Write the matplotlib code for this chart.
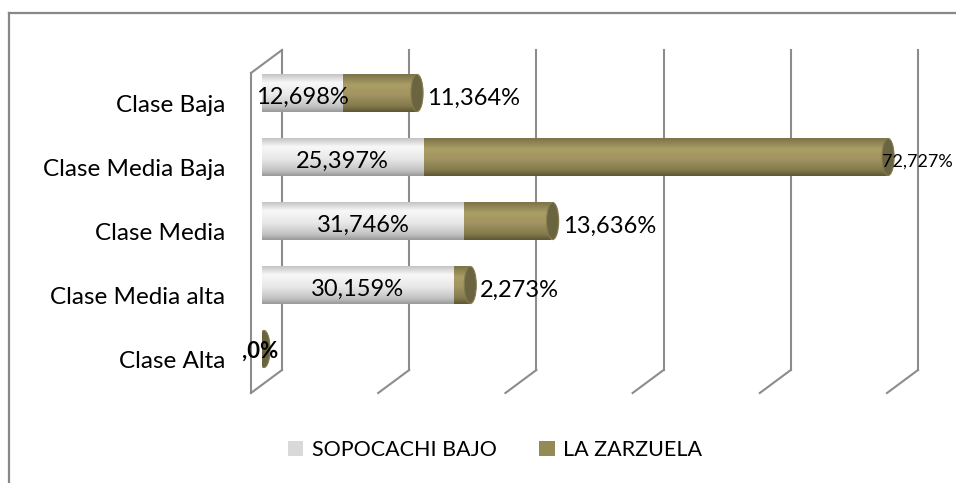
import matplotlib.pyplot as plt
import numpy as np
from matplotlib.patches import Ellipse, Patch
from matplotlib.transforms import offset_copy
from matplotlib.colors import LinearSegmentedColormap

plt.rcParams['font.family'] = ['Lato', 'DejaVu Sans']

# Datos
categorias = ["Clase Alta", "Clase Media alta", "Clase Media", "Clase Media Baja", "Clase Baja"]
sopocachi = [0.0, 30.159, 31.746, 25.397, 12.698]
zarzuela = [0.0, 2.273, 13.636, 72.727, 11.364]
etiquetas_sop = [",0%", "30,159%", "31,746%", "25,397%", "12,698%"]
etiquetas_zar = ["0%", "2,273%", "13,636%", "72,727%", "11,364%"]
series = ["SOPOCACHI BAJO", "LA ZARZUELA"]
grid_x = [0, 20, 40, 60, 80, 100]

gris = "#d9d9d9"
oliva = "#948a54"
tapa = "#6b6441"
linea = "#8c8c8c"

fig = plt.figure(figsize=(9.56, 4.83), dpi=100)
W, H = 956, 483
ax = fig.add_axes([262 / W, 102 / H, 636 / W, 320 / H])
ax.set_xlim(0, 100)
ax.set_ylim(-0.5, 4.5)
ax.axis("off")

# marco del grafico (solo izquierda y arriba visibles)
fig.add_artist(plt.Line2D([9 / W, 9 / W], [0, 1 - 13 / H], color="#888888", lw=1.6))
fig.add_artist(plt.Line2D([9 / W, 1], [1 - 13 / H, 1 - 13 / H], color="#888888", lw=1.6))

# pared del fondo y piso (efecto 3D)
atras = offset_copy(ax.transData, fig, x=20, y=11, units="dots")
frente = offset_copy(ax.transData, fig, x=-11, y=-12, units="dots")
for gx in grid_x:
    ax.plot([gx, gx], [-0.5, 4.5], color=linea, lw=1.5, transform=atras, clip_on=False, zorder=1)
    p0 = atras.transform((gx, -0.5))
    p1 = frente.transform((gx, -0.5))
    ax.plot([p0[0], p1[0]], [p0[1], p1[1]], color=linea, lw=1.5, transform=None, clip_on=False, zorder=1)
# pared izquierda
ax.plot([0, 0], [-0.5, 4.5], color=linea, lw=1.5, transform=frente, clip_on=False, zorder=1)
q0 = atras.transform((0, 4.5))
q1 = frente.transform((0, 4.5))
ax.plot([q0[0], q1[0]], [q0[1], q1[1]], color=linea, lw=1.5, transform=None, clip_on=False, zorder=1)

cm_gris = LinearSegmentedColormap.from_list(
    "g", [(0, "#c4c4c4"), (0.22, "#f8f8f8"), (0.55, "#e8e8e8"), (0.85, "#c4c4c4"), (1, "#9a9a9a")])
cm_oliva = LinearSegmentedColormap.from_list(
    "o", [(0, "#7c7449"), (0.28, "#aa9d65"), (0.55, "#a19461"), (0.85, "#847a4d"), (1, "#5e5735")])
grad = np.linspace(0, 1, 64).reshape(-1, 1)

h = 0.58
for i in range(len(categorias)):
    a, b = sopocachi[i], zarzuela[i]
    if a > 0:
        ax.imshow(grad, cmap=cm_gris, extent=[0, a, i - h / 2, i + h / 2],
                  aspect="auto", interpolation="bicubic", zorder=3)
    if b > 0:
        ax.imshow(grad, cmap=cm_oliva, extent=[a, a + b, i - h / 2, i + h / 2],
                  aspect="auto", interpolation="bicubic", zorder=3)
    fin = a + b
    cap = Ellipse((fin, i), 1.9, h, facecolor=tapa, edgecolor="#847b50", lw=0.8, zorder=4,
                  transform=offset_copy(ax.transData, fig, x=2, units="dots"))
    ax.add_patch(cap)

    # etiquetas de categoria
    ax.text(0, i, categorias[i], ha="right", va="center", fontsize=17.5, color="black",
            transform=offset_copy(ax.transData, fig, x=-37, y=-12, units="dots"))

    # etiquetas de datos
    if a > 0:
        ax.text(a / 2, i, etiquetas_sop[i], ha="center", va="center", fontsize=17, zorder=5,
                transform=offset_copy(ax.transData, fig, x=0, y=-4, units="dots"))
        size = 13 if b > 50 else 17
        dx = -4 if b > 50 else 12
        ax.text(fin, i, etiquetas_zar[i], ha="left", va="center", fontsize=size, zorder=5,
                transform=offset_copy(ax.transData, fig, x=dx, y=-5, units="dots"))
    else:
        # las dos etiquetas en cero se superponen; se dibujan como una sola
        ax.text(0, i, etiquetas_sop[i], ha="center", va="center", fontsize=16,
                fontweight="bold", zorder=5,
                transform=offset_copy(ax.transData, fig, x=-2, y=-2, units="dots"))

ax.set_xlim(0, 100)
ax.set_ylim(-0.5, 4.5)

handles = [Patch(facecolor=gris), Patch(facecolor=oliva)]
fig.legend(handles, series, loc="center", bbox_to_anchor=(495 / W, 1 - 450 / H), ncol=2,
           frameon=False, fontsize=15.5, handlelength=0.7, handleheight=0.7,
           handletextpad=0.4, columnspacing=2.0)

fig.savefig("out.png", dpi=100)
